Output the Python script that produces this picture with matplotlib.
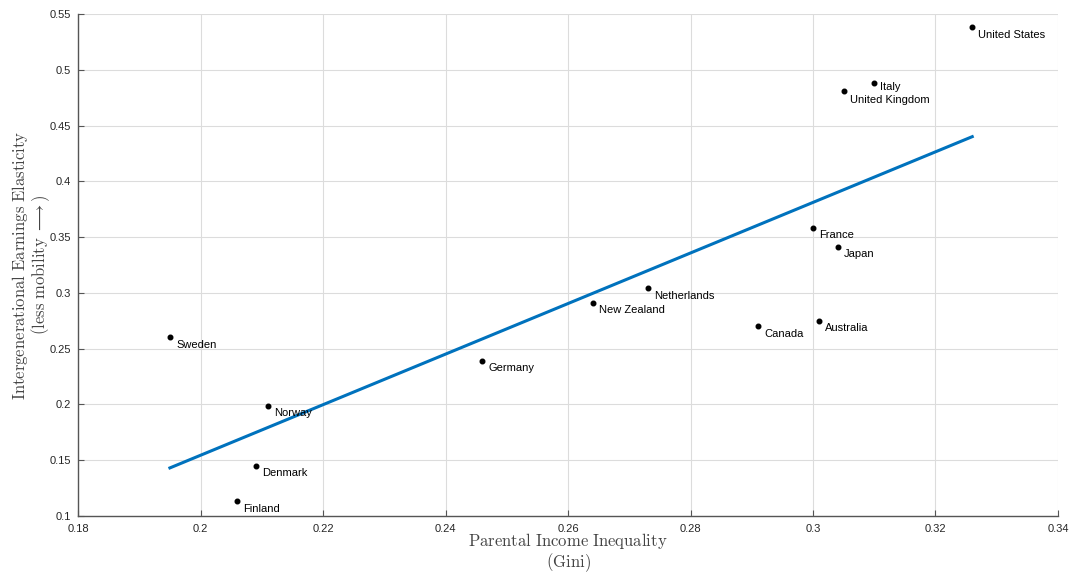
import numpy as np
import matplotlib
matplotlib.use('Agg')
import matplotlib.pyplot as plt
from matplotlib.ticker import FuncFormatter

plt.rcParams['font.family'] = ['Liberation Sans', 'DejaVu Sans']
plt.rcParams['mathtext.fontset'] = 'cm'

# Datos: desigualdad de ingresos (Gini) vs elasticidad intergeneracional
paises = ['United States', 'Italy', 'United Kingdom', 'France', 'Japan',
          'Netherlands', 'New Zealand', 'Canada', 'Australia', 'Germany',
          'Sweden', 'Norway', 'Denmark', 'Finland']
gini = [0.326, 0.310, 0.305, 0.300, 0.304, 0.273, 0.264, 0.291, 0.301,
        0.246, 0.195, 0.211, 0.209, 0.206]
elasticidad = [0.538, 0.488, 0.481, 0.358, 0.341, 0.304, 0.291, 0.270,
               0.275, 0.239, 0.260, 0.199, 0.145, 0.113]

# Recta de ajuste
pendiente = 2.267
intercepto = -0.299

gini = np.array(gini)
elasticidad = np.array(elasticidad)

fig = plt.figure(figsize=(10.69, 5.72), dpi=100)
ax = fig.add_axes([0.073, 0.098, 0.9167, 0.8775])

xs = np.array([gini.min(), gini.max()])
ax.plot(xs, pendiente * xs + intercepto, color='#0072BD', lw=2.2, zorder=2)
ax.plot(gini, elasticidad, 'o', color='black', markersize=3.3, zorder=3)

# desplazamiento de etiquetas (Italy y UK un poco distintos para no solaparse)
dy_especial = {'Italy': -0.003, 'United Kingdom': -0.0085}
for p, x, y in zip(paises, gini, elasticidad):
    dy = dy_especial.get(p, -0.0065)
    ax.text(x + 0.001, y + dy, p, fontsize=8, color='black',
            va='center', ha='left', zorder=4)

ax.set_xlim(0.18, 0.34)
ax.set_ylim(0.1, 0.55)
ax.set_xticks(np.arange(0.18, 0.3401, 0.02))
ax.set_yticks(np.arange(0.1, 0.5501, 0.05))
fmt = FuncFormatter(lambda v, pos: '%g' % round(v, 3))
ax.xaxis.set_major_formatter(fmt)
ax.yaxis.set_major_formatter(fmt)

ax.grid(True, color='#dcdcdc', lw=0.8)
ax.set_axisbelow(True)
for s in ['top', 'right']:
    ax.spines[s].set_visible(False)
for s in ['left', 'bottom']:
    ax.spines[s].set_color('#555555')
    ax.spines[s].set_linewidth(1.0)
ax.tick_params(direction='in', length=4, width=0.8, colors='#555555',
               labelsize=8, labelcolor='#262626')
ax.tick_params(axis='x', pad=6)
ax.tick_params(axis='y', pad=5)

ax.set_xlabel('$\\mathrm{Parental\\ Income\\ Inequality}$\n$\\mathrm{(Gini)}$',
              fontsize=12, color='#444444', labelpad=-2, linespacing=1.0)
ax.set_ylabel('$\\mathrm{Intergenerational\\ Earnings\\ Elasticity}$\n'
              '$\\mathrm{(less\\ mobility\\ }\\longrightarrow\\mathrm{)}$',
              fontsize=12, color='#444444', labelpad=-2, linespacing=1.0)

fig.savefig('out.png', dpi=100)
